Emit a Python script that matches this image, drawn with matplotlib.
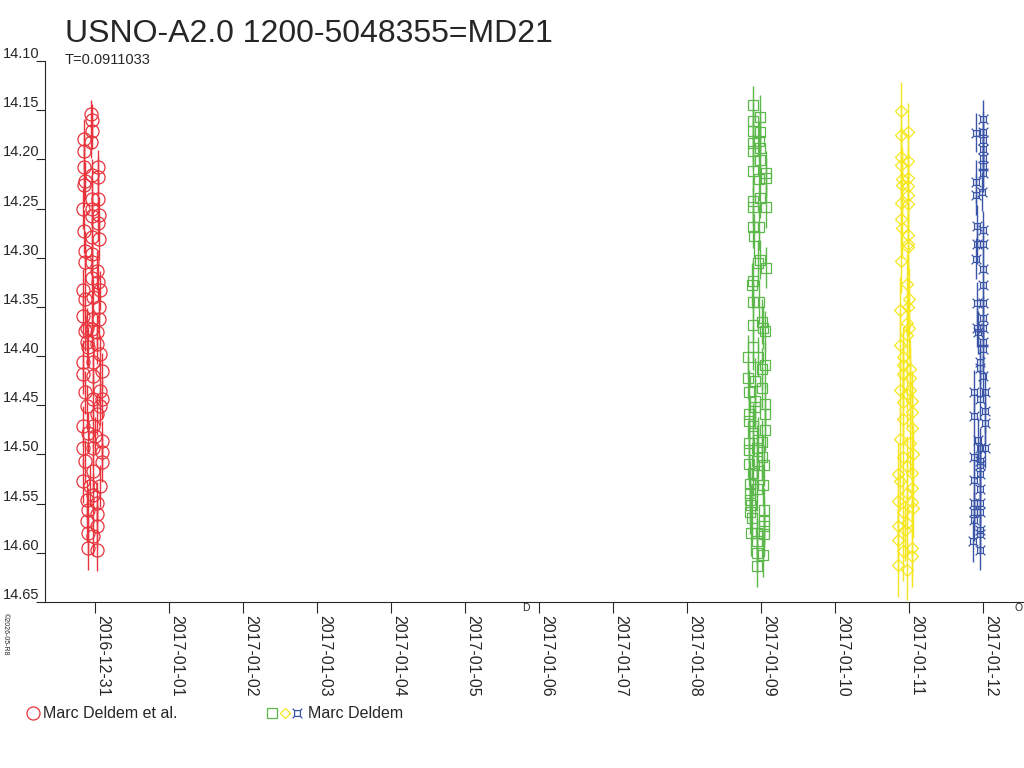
import numpy as np
import matplotlib
matplotlib.use("Agg")
import matplotlib.pyplot as plt
import matplotlib.dates as mdates
from matplotlib.path import Path
from matplotlib.lines import Line2D
from datetime import datetime

plt.rcParams['font.family'] = ['Liberation Sans', 'DejaVu Sans']

title = 'USNO-A2.0 1200-5048355=MD21'
subtitle = 'T=0.0911033'
credit = '\u00a92026-05-R8'
legend_labels = ['Marc Deldem et al.', 'Marc Deldem']

# times in days since 2016-12-31 00:00 UT, magnitudes
red_t = [-0.059, -0.050, -0.050, -0.150, -0.059, -0.150, -0.150, 0.039, -0.050, 0.031,
         -0.141, -0.150, -0.050, 0.039, -0.164, -0.050, 0.053, -0.050, 0.031, -0.150,
         -0.050, 0.053, -0.141, -0.050, -0.141, -0.050, 0.026, -0.050, 0.039, -0.164,
         0.062, -0.028, -0.141, 0.053, -0.164, -0.050, 0.053, -0.118, -0.050, -0.141,
         0.022, -0.118, 0.018, -0.096, 0.062, -0.164, -0.028, 0.085, -0.164, -0.028,
         -0.141, 0.062, -0.028, 0.085, -0.118, 0.062, 0.018, -0.164, -0.028, -0.096,
         -0.005, 0.085, -0.164, -0.028, 0.085, -0.141, 0.085, -0.028, -0.164, -0.073,
         0.062, -0.028, -0.118, 0.018, -0.096, 0.018, -0.118, 0.018, -0.096, -0.028,
         -0.096, 0.018]
red_mag = [14.154, 14.160, 14.171, 14.179, 14.182, 14.191, 14.208, 14.208, 14.216, 14.218,
           14.222, 14.226, 14.240, 14.240, 14.250, 14.250, 14.257, 14.258, 14.265, 14.273,
           14.279, 14.281, 14.293, 14.296, 14.304, 14.304, 14.313, 14.321, 14.325, 14.333,
           14.333, 14.340, 14.342, 14.350, 14.359, 14.362, 14.362, 14.371, 14.372, 14.374,
           14.376, 14.386, 14.388, 14.391, 14.398, 14.406, 14.406, 14.415, 14.418, 14.420,
           14.437, 14.435, 14.444, 14.444, 14.451, 14.451, 14.459, 14.471, 14.471, 14.478,
           14.481, 14.486, 14.493, 14.493, 14.497, 14.507, 14.508, 14.517, 14.527, 14.532,
           14.532, 14.541, 14.546, 14.549, 14.556, 14.561, 14.568, 14.573, 14.580, 14.583,
           14.595, 14.597]
red_err = [0.014, 0.016, 0.018, 0.020, 0.017, 0.019, 0.021, 0.018, 0.016, 0.020,
           0.019, 0.022, 0.018, 0.020, 0.021, 0.017, 0.019, 0.020, 0.018, 0.022,
           0.019, 0.021, 0.020, 0.018, 0.022, 0.019, 0.020, 0.021, 0.019, 0.022,
           0.020, 0.018, 0.021, 0.020, 0.022, 0.019, 0.021, 0.020, 0.018, 0.021,
           0.019, 0.022, 0.020, 0.021, 0.019, 0.022, 0.020, 0.018, 0.021, 0.020,
           0.022, 0.019, 0.021, 0.020, 0.022, 0.019, 0.021, 0.020, 0.022, 0.021,
           0.019, 0.020, 0.022, 0.021, 0.019, 0.022, 0.020, 0.021, 0.022, 0.020,
           0.021, 0.022, 0.020, 0.021, 0.022, 0.020, 0.021, 0.022, 0.021, 0.020,
           0.022, 0.021]

green_t = [8.882, 8.981, 8.882, 8.882, 8.981, 8.972, 8.882, 8.981, 8.882, 8.981,
           8.882, 9.062, 9.062, 8.972, 8.981, 8.891, 8.882, 9.062, 8.891, 8.972,
           8.900, 8.981, 8.958, 9.062, 8.891, 8.869, 8.891, 8.972, 8.891, 9.004,
           9.018, 9.049, 8.891, 8.823, 8.958, 9.049, 9.004, 8.823, 8.914, 9.004,
           8.836, 8.914, 9.049, 8.914, 8.836, 9.049, 8.836, 8.891, 9.049, 8.891,
           8.958, 8.836, 9.004, 8.936, 8.836, 9.004, 8.936, 8.836, 9.039, 8.891,
           8.936, 8.846, 9.018, 8.936, 8.846, 8.846, 8.855, 8.846, 9.035, 8.869,
           9.035, 9.035, 8.855, 8.945, 9.035, 8.936, 8.945, 9.026, 8.936]
green_mag = [14.145, 14.157, 14.161, 14.171, 14.172, 14.181, 14.183, 14.188, 14.192, 14.201,
             14.212, 14.214, 14.219, 14.220, 14.239, 14.242, 14.248, 14.248, 14.269, 14.269,
             14.278, 14.302, 14.305, 14.310, 14.324, 14.328, 14.345, 14.345, 14.368, 14.365,
             14.371, 14.375, 14.391, 14.401, 14.401, 14.409, 14.413, 14.422, 14.425, 14.432,
             14.436, 14.446, 14.449, 14.452, 14.459, 14.459, 14.466, 14.471, 14.475, 14.478,
             14.485, 14.488, 14.487, 14.493, 14.495, 14.503, 14.507, 14.510, 14.511, 14.519,
             14.521, 14.530, 14.531, 14.535, 14.539, 14.546, 14.551, 14.558, 14.556, 14.565,
             14.568, 14.573, 14.580, 14.580, 14.581, 14.588, 14.600, 14.602, 14.613]
green_err = [0.020, 0.022, 0.019, 0.021, 0.023, 0.020, 0.022, 0.021, 0.019, 0.022,
             0.021, 0.023, 0.020, 0.022, 0.021, 0.023, 0.020, 0.022, 0.021, 0.023,
             0.022, 0.020, 0.023, 0.021, 0.022, 0.023, 0.021, 0.022, 0.020, 0.023,
             0.022, 0.021, 0.023, 0.022, 0.020, 0.023, 0.021, 0.022, 0.023, 0.021,
             0.022, 0.023, 0.021, 0.022, 0.023, 0.020, 0.022, 0.023, 0.021, 0.022,
             0.023, 0.021, 0.022, 0.023, 0.022, 0.021, 0.023, 0.022, 0.021, 0.023,
             0.022, 0.023, 0.021, 0.022, 0.023, 0.022, 0.021, 0.023, 0.022, 0.023,
             0.022, 0.021, 0.023, 0.022, 0.023, 0.022, 0.021, 0.023, 0.022]

yellow_t = [10.886, 10.886, 10.985, 10.886, 10.985, 10.886, 10.896, 10.985, 10.985, 10.896,
            10.985, 10.882, 10.985, 10.882, 10.896, 10.985, 10.985, 10.985, 10.882, 10.972,
            10.999, 10.985, 10.873, 10.972, 10.999, 10.972, 10.873, 10.918, 10.918, 11.008,
            10.918, 11.008, 10.873, 11.008, 10.964, 11.031, 10.918, 11.031, 10.918, 11.031,
            10.873, 11.008, 11.053, 10.918, 10.964, 11.031, 10.850, 10.873, 11.031, 10.964,
            10.850, 11.031, 11.053, 10.918, 10.964, 10.850, 10.941, 10.850, 11.031, 10.918,
            11.031, 10.850, 10.964]
yellow_mag = [14.151, 14.175, 14.172, 14.198, 14.202, 14.206, 14.220, 14.219, 14.227, 14.226,
              14.236, 14.244, 14.245, 14.261, 14.270, 14.277, 14.286, 14.289, 14.303, 14.327,
              14.342, 14.350, 14.353, 14.366, 14.371, 14.379, 14.389, 14.401, 14.409, 14.413,
              14.418, 14.422, 14.434, 14.434, 14.439, 14.446, 14.447, 14.457, 14.464, 14.473,
              14.484, 14.488, 14.500, 14.503, 14.512, 14.519, 14.520, 14.527, 14.534, 14.539,
              14.547, 14.548, 14.554, 14.558, 14.570, 14.573, 14.577, 14.587, 14.595, 14.598,
              14.603, 14.612, 14.617]
yellow_err = [0.030, 0.031, 0.029, 0.032, 0.030, 0.031, 0.033, 0.030, 0.032, 0.031,
              0.030, 0.032, 0.031, 0.033, 0.030, 0.032, 0.031, 0.030, 0.033, 0.031,
              0.032, 0.030, 0.033, 0.031, 0.032, 0.030, 0.033, 0.031, 0.032, 0.030,
              0.033, 0.031, 0.032, 0.030, 0.033, 0.031, 0.032, 0.033, 0.030, 0.032,
              0.031, 0.033, 0.030, 0.032, 0.031, 0.033, 0.032, 0.030, 0.033, 0.031,
              0.032, 0.033, 0.031, 0.032, 0.030, 0.033, 0.031, 0.032, 0.033, 0.031,
              0.032, 0.033, 0.031]

blue_t = [11.991, 11.900, 11.991, 11.991, 11.991, 11.991, 11.991, 11.991, 11.900, 11.977,
          11.900, 11.909, 11.991, 11.909, 11.991, 11.900, 11.999, 11.991, 11.918, 11.991,
          11.999, 11.918, 11.999, 11.931, 11.999, 11.999, 11.954, 11.954, 11.999, 11.873,
          12.022, 11.954, 12.022, 11.873, 12.022, 11.931, 11.954, 12.022, 11.873, 11.954,
          11.954, 11.954, 11.873, 11.954, 11.873, 11.954, 11.873, 11.954, 11.873, 11.954,
          11.954, 11.864, 11.954]
blue_mag = [14.159, 14.173, 14.172, 14.180, 14.189, 14.199, 14.207, 14.214, 14.223, 14.233,
            14.236, 14.268, 14.272, 14.286, 14.286, 14.301, 14.311, 14.328, 14.346, 14.346,
            14.361, 14.371, 14.371, 14.376, 14.386, 14.393, 14.406, 14.412, 14.420, 14.436,
            14.437, 14.444, 14.456, 14.461, 14.468, 14.485, 14.493, 14.493, 14.503, 14.507,
            14.511, 14.520, 14.526, 14.535, 14.549, 14.549, 14.558, 14.559, 14.567, 14.577,
            14.581, 14.588, 14.597]
blue_err = [0.019, 0.020, 0.021, 0.019, 0.022, 0.020, 0.021, 0.019, 0.022, 0.020,
            0.021, 0.022, 0.019, 0.020, 0.022, 0.021, 0.020, 0.022, 0.021, 0.019,
            0.022, 0.020, 0.021, 0.022, 0.020, 0.021, 0.022, 0.019, 0.021, 0.022,
            0.020, 0.021, 0.022, 0.020, 0.021, 0.022, 0.020, 0.021, 0.022, 0.020,
            0.021, 0.022, 0.020, 0.021, 0.022, 0.021, 0.020, 0.022, 0.021, 0.022,
            0.020, 0.021, 0.020]

# moon phases: first quarter, full moon (days since 2016-12-31)
moon_t = [5.824, 12.482]
moon_sym = ['D', 'O']

RED, GREEN, YELLOW, BLUE = '#e8333c', '#5cb84a', '#f5e61e', '#3a55a8'
TXT = '#262626'

# box with corner spikes (like the ¤ sign)
star_verts = [(-0.3, -0.3), (0.3, -0.3), (0.3, 0.3), (-0.3, 0.3), (-0.3, -0.3),
              (-0.3, -0.3), (-0.5, -0.5), (0.3, -0.3), (0.5, -0.5),
              (0.3, 0.3), (0.5, 0.5), (-0.3, 0.3), (-0.5, 0.5)]
star_codes = [Path.MOVETO, Path.LINETO, Path.LINETO, Path.LINETO, Path.CLOSEPOLY,
              Path.MOVETO, Path.LINETO, Path.MOVETO, Path.LINETO,
              Path.MOVETO, Path.LINETO, Path.MOVETO, Path.LINETO]
star = Path(star_verts, star_codes)

base = mdates.date2num(datetime(2016, 12, 31))

fig = plt.figure(figsize=(10.24, 7.68), dpi=100)
ax = fig.add_axes([45 / 1024, 1 - 602 / 768, 979 / 1024, 541 / 768])

series = [
    (red_t, red_mag, red_err, RED, 'o', 9.4),
    (green_t, green_mag, green_err, GREEN, 's', 7.0),
    (yellow_t, yellow_mag, yellow_err, YELLOW, 'D', 6.0),
    (blue_t, blue_mag, blue_err, BLUE, star, 7.0),
]
for t, m, e, c, mk, ms in series:
    ax.errorbar(base + np.array(t), m, yerr=e, fmt='none', ecolor=c,
                elinewidth=1.0, capsize=0)
    ax.plot(base + np.array(t), m, linestyle='none', marker=mk, ms=ms,
            mfc='none', mec=c, mew=0.9)

ax.set_xlim(base - 0.681, base + 12.549)
ax.set_ylim(14.65, 14.10)

ax.xaxis.set_major_locator(mdates.DayLocator())
ax.xaxis.set_major_formatter(mdates.DateFormatter('%Y-%m-%d'))
yt = np.arange(14.10, 14.651, 0.05)
ax.set_yticks(yt)
ax.set_yticklabels(['%.2f' % v for v in yt], va='bottom')
for lab in ax.get_xticklabels():
    lab.set_rotation(-90)
    lab.set_ha('left')
    lab.set_va('top')

ax.tick_params(axis='x', direction='out', length=8, width=0.8, pad=1.5,
               labelsize=11.5, colors=TXT)
ax.tick_params(axis='y', direction='out', length=6.5, width=0.8, pad=-2.2,
               labelsize=10.5, colors=TXT)
for s in ['top', 'right']:
    ax.spines[s].set_visible(False)
for s in ['left', 'bottom']:
    ax.spines[s].set_linewidth(0.8)
    ax.spines[s].set_color(TXT)

for t, sym in zip(moon_t, moon_sym):
    ax.annotate(sym, xy=(base + t, 0), xycoords=('data', 'axes fraction'),
                xytext=(0, -1), textcoords='offset points', ha='center', va='top',
                fontsize=7.5, color=TXT, annotation_clip=False)

fig.text(65 / 1024, 1 - 42 / 768, title, fontsize=23, color=TXT, va='baseline')
fig.text(65 / 1024, 1 - 64 / 768, subtitle, fontsize=10.5, color=TXT, va='baseline')
fig.text(5 / 1024, 1 - 634 / 768, credit, fontsize=5, rotation=-90, color=TXT,
         ha='center', va='center')

# legend row at the bottom
ly = 1 - 713 / 768
for x, c, mk, ms in [(33, RED, 'o', 9.4), (272, GREEN, 's', 6.5),
                     (285, YELLOW, 'D', 5.6), (297, BLUE, star, 7.0)]:
    fig.add_artist(Line2D([x / 1024], [ly], transform=fig.transFigure,
                          linestyle='none', marker=mk, ms=ms, mfc='none',
                          mec=c, mew=0.9))
fig.text(43 / 1024, ly, legend_labels[0], fontsize=11.5, color=TXT, va='center')
fig.text(308 / 1024, ly, legend_labels[1], fontsize=11.5, color=TXT, va='center')

fig.savefig('out.png', dpi=100)
